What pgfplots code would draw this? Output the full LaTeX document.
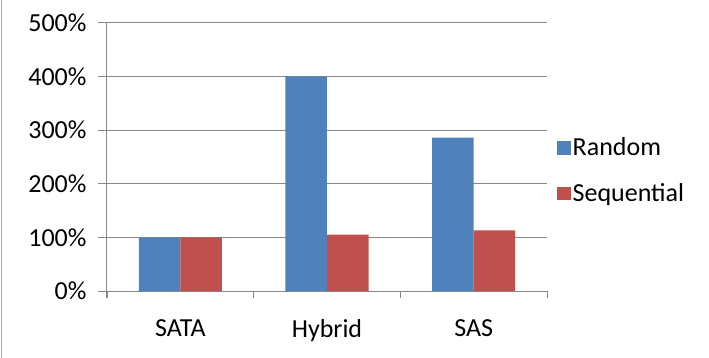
\documentclass[border=0pt]{standalone}
\usepackage{pgfplots}
\pgfplotsset{compat=1.18}
\usepackage{fontspec}
\setmainfont{Carlito}
\definecolor{cblue}{HTML}{4F81BD}
\definecolor{cred}{HTML}{C0504D}
\definecolor{cgrid}{HTML}{878787}
\begin{document}
\begin{tikzpicture}
\useasboundingbox (-107bp,-67bp) rectangle (602bp,291bp);
\draw[color=black!35, line width=1.5bp] (-105.5bp,-67bp) -- (-105.5bp,291bp);
\begin{axis}[
  scale only axis,
  width=440bp, height=268bp,
  xmin=-0.5, xmax=2.5,
  ymin=0, ymax=500,
  ybar=0pt, bar width=41.5bp,
  xtick={0,1,2},
  xticklabels={SATA,Hybrid,SAS},
  major x tick style={draw=none},
  minor xtick={-0.5,0.5,1.5,2.5},
  minor x tick style={cgrid, line width=1bp},
  minor tick length=7bp,
  ytick={0,100,200,300,400,500},
  yticklabels={0\%,100\%,200\%,300\%,400\%,500\%},
  ymajorgrids,
  grid style={cgrid, line width=1bp},
  axis x line*=bottom,
  axis y line*=left,
  axis line style={cgrid, line width=1bp, -},
  y tick style={cgrid, line width=1bp},
  tick align=outside,
  major tick length=9bp,
  ytick pos=left,
  xtick pos=bottom,
  ticklabel style={font=\fontsize{26bp}{30bp}\selectfont, text=black},
  xticklabel style={yshift=-16bp},
  yticklabel style={xshift=-8bp},
  legend style={draw=none, fill=none, at={(rel axis cs:1,0.45)}, anchor=west, xshift=10bp,
    font=\fontsize{26bp}{30bp}\selectfont, row sep=22bp, inner sep=0pt,
    /tikz/every even column/.append style={column sep=7bp}},
  legend cell align=left,
  legend image code/.code={\fill[#1] (0bp,-7bp) rectangle (13.5bp,6.5bp);},
]
\addplot[fill=cblue, draw=none] coordinates {(0,100) (1,400) (2,286)};
\addplot[fill=cred, draw=none] coordinates {(0,100) (1,105) (2,113)};
\legend{Random, Sequential}
\end{axis}
\draw[cgrid, line width=1bp] (0,0) -- (0,-7bp);
\end{tikzpicture}
\end{document}
